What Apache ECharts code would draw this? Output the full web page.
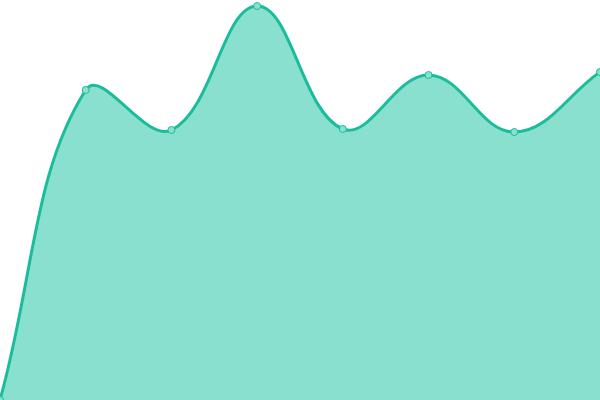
<!DOCTYPE html>
<html>
<head>
    <meta charset="utf-8">
    <title>ECharts</title>
    <script src="https://cdn.jsdelivr.net/npm/echarts@6/dist/echarts.min.js"></script>
    <style>body { margin: 0; }</style>
</head>
<body>
    <div id="main" style="width: 600px;height:400px;"></div>
    <script type="text/javascript">
    var categories = ['1', '2', '3', '4', '5', '6', '7', '8'];
    var values = [0, 310, 270, 394, 271, 325, 268, 328];

    var lineColor = '#1abc9c';
    var areaColor = '#8ae0cf';
    var tension = 0.4;

    var myChart = echarts.init(document.getElementById('main'));

    // curve drawn with zrender's spline (no clamping of control points),
    // end points doubled so the ends get a tangent like the original
    function renderCurve(params, api) {
        if (params.dataIndex !== 0) {
            return null;
        }
        var pts = values.map(function (v, i) {
            return api.coord([i, v]);
        });
        var first = pts[0];
        var last = pts[pts.length - 1];
        var base0 = api.coord([0, 0]);
        var base1 = api.coord([values.length - 1, 0]);
        var linePts = [first].concat(pts, [last]);
        var areaPts = pts.concat([last, base1, base1, base0]);
        return {
            type: 'group',
            children: [{
                type: 'polygon',
                shape: { points: areaPts, smooth: tension },
                style: { fill: areaColor, stroke: 'none' }
            }, {
                type: 'polyline',
                shape: { points: linePts, smooth: tension },
                style: { fill: 'none', stroke: lineColor, lineWidth: 3 }
            }]
        };
    }

    var option = {
        animation: false,
        grid: { left: 0, right: 0, top: 0, bottom: 0 },
        xAxis: {
            type: 'category',
            boundaryGap: false,
            data: categories,
            show: false
        },
        yAxis: {
            type: 'value',
            min: 0,
            max: 400,
            show: false
        },
        series: [{
            type: 'custom',
            renderItem: renderCurve,
            data: values,
            clip: false
        }, {
            type: 'scatter',
            data: values,
            symbol: 'circle',
            symbolSize: 7,
            itemStyle: { color: areaColor, borderColor: lineColor, borderWidth: 1, opacity: 1 }
        }]
    };
    myChart.setOption(option);
    </script>
</body>
</html>
